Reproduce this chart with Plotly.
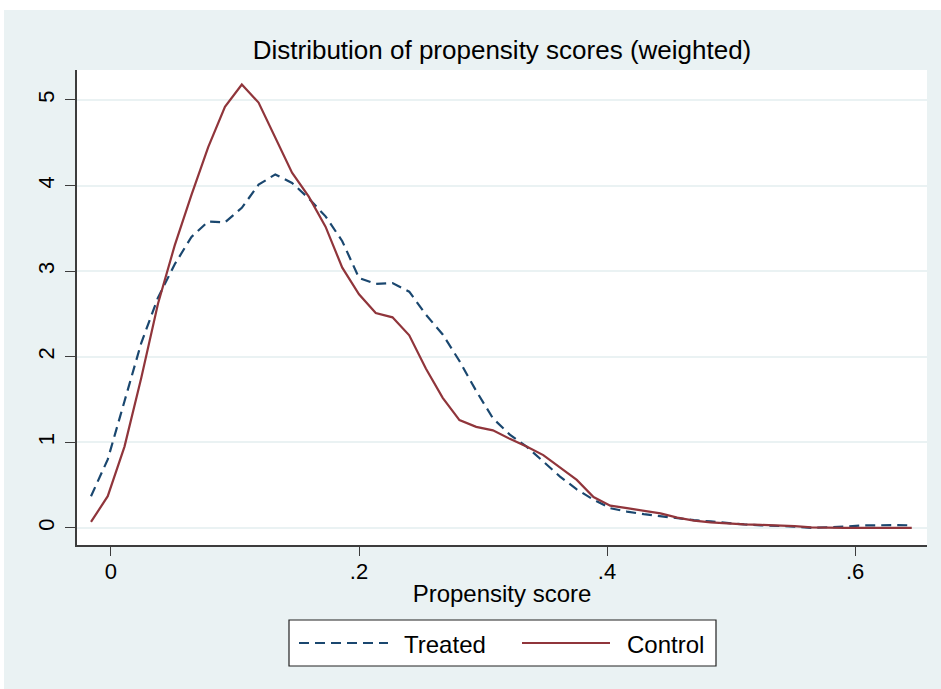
import plotly.graph_objects as go

# Propensity score grid (x) and weighted kernel density estimates
pscore = [-0.0161, -0.0026, 0.0109, 0.0244, 0.0379, 0.0514, 0.0649, 0.0784, 0.0919, 0.1055,
          0.1190, 0.1325, 0.1460, 0.1595, 0.1730, 0.1865, 0.2000, 0.2135, 0.2270, 0.2405,
          0.2540, 0.2675, 0.2810, 0.2945, 0.3080, 0.3216, 0.3351, 0.3486, 0.3621, 0.3756,
          0.3891, 0.4026, 0.4161, 0.4296, 0.4431, 0.4566, 0.4701, 0.4836, 0.4971, 0.5106,
          0.5241, 0.5377, 0.5512, 0.5647, 0.5782, 0.5917, 0.6052, 0.6187, 0.6322, 0.6457]

treated = [0.37, 0.80, 1.48, 2.16, 2.69, 3.08, 3.40, 3.58, 3.57, 3.74,
           4.01, 4.13, 4.03, 3.85, 3.64, 3.35, 2.92, 2.85, 2.86, 2.76,
           2.49, 2.26, 1.95, 1.60, 1.28, 1.09, 0.95, 0.78, 0.60, 0.45,
           0.33, 0.23, 0.19, 0.16, 0.135, 0.117, 0.09, 0.075, 0.055, 0.04,
           0.03, 0.025, 0.015, 0.0, 0.005, 0.015, 0.028, 0.033, 0.033, 0.03]

control = [0.07, 0.37, 0.95, 1.75, 2.62, 3.30, 3.89, 4.45, 4.92, 5.18,
           4.97, 4.57, 4.15, 3.87, 3.52, 3.04, 2.73, 2.51, 2.46, 2.25,
           1.86, 1.52, 1.26, 1.18, 1.14, 1.04, 0.95, 0.85, 0.70, 0.56,
           0.36, 0.26, 0.23, 0.20, 0.17, 0.12, 0.085, 0.065, 0.05, 0.04,
           0.035, 0.03, 0.02, 0.005, 0.0, 0.0, 0.0, 0.0, 0.0, 0.0]

x_ticks = [0, 0.2, 0.4, 0.6]
x_tick_labels = ["0", ".2", ".4", ".6"]
y_ticks = [0, 1, 2, 3, 4, 5]
y_tick_labels = ["0", "1", "2", "3", "4", "5"]

series_names = ["Treated", "Control"]
TREATED_COLOR = "#1a476f"
CONTROL_COLOR = "#90353b"
BG = "#eaf2f3"
AXIS = "#3c3c3c"
FONT = "Liberation Sans, Arial, sans-serif"

W, H = 941, 689
L, R, T, B = 77, 14, 70, 144
PW, PH = W - L - R, H - T - B

def px_x(p):
    return (p - L) / PW

def px_y(p):
    return (H - B - p) / PH

fig = go.Figure()
fig.add_trace(go.Scatter(x=pscore, y=treated, mode="lines", name=series_names[0],
                         line=dict(color=TREATED_COLOR, width=2.2, dash="10px,6px")))
fig.add_trace(go.Scatter(x=pscore, y=control, mode="lines", name=series_names[1],
                         line=dict(color=CONTROL_COLOR, width=2.2)))

shapes = [
    # outer graph region background
    dict(type="rect", xref="paper", yref="paper", layer="below",
         x0=px_x(4), x1=px_x(W + 2), y0=px_y(H + 2), y1=px_y(10),
         fillcolor=BG, line=dict(width=0)),
    # plot region
    dict(type="rect", xref="paper", yref="paper", layer="below",
         x0=0, x1=1, y0=0, y1=1, fillcolor="white", line=dict(width=0)),
    # legend box
    dict(type="rect", xref="paper", yref="paper", layer="above",
         x0=px_x(289), x1=px_x(716), y0=px_y(666), y1=px_y(620),
         fillcolor="white", line=dict(color="#222222", width=1.2)),
    dict(type="line", xref="paper", yref="paper",
         x0=px_x(299), x1=px_x(388), y0=px_y(643), y1=px_y(643),
         line=dict(color=TREATED_COLOR, width=2.2, dash="10px,6px")),
    dict(type="line", xref="paper", yref="paper",
         x0=px_x(522), x1=px_x(610), y0=px_y(643), y1=px_y(643),
         line=dict(color=CONTROL_COLOR, width=2.2)),
]

annotations = [
    dict(text=series_names[0], xref="paper", yref="paper", x=px_x(402), y=px_y(644),
         xanchor="left", yanchor="middle", showarrow=False,
         font=dict(family=FONT, size=24, color="black")),
    dict(text=series_names[1], xref="paper", yref="paper", x=px_x(625), y=px_y(644),
         xanchor="left", yanchor="middle", showarrow=False,
         font=dict(family=FONT, size=24, color="black")),
]

fig.update_layout(
    width=W, height=H,
    margin=dict(l=L, r=R, t=T, b=B, pad=0),
    paper_bgcolor="white",
    plot_bgcolor="rgba(0,0,0,0)",
    showlegend=False,
    font=dict(family=FONT, color="black"),
    title=dict(text="Distribution of propensity scores (weighted)",
               x=(L + PW / 2) / W, xanchor="center",
               y=1 - 50 / H, yanchor="middle",
               font=dict(family=FONT, size=26, color="black")),
    shapes=shapes,
    annotations=annotations,
)

fig.update_xaxes(
    range=[-0.0274, 0.658],
    tickmode="array", tickvals=x_ticks, ticktext=x_tick_labels,
    ticks="outside", ticklen=9, tickwidth=1.3, tickcolor=AXIS,
    showline=True, linecolor=AXIS, linewidth=1.8,
    showgrid=False, zeroline=False,
    tickfont=dict(family=FONT, size=22, color="black"),
    ticklabelstandoff=-3,
    title=dict(text="Propensity score", standoff=2,
               font=dict(family=FONT, size=24, color="black")),
)
fig.update_yaxes(
    range=[-0.2, 5.35],
    tickmode="array", tickvals=y_ticks, ticktext=y_tick_labels,
    ticks="outside", ticklen=10, tickwidth=1.3, tickcolor=AXIS,
    showline=True, linecolor=AXIS, linewidth=1.5,
    showgrid=True, gridcolor=BG, gridwidth=2,
    zeroline=False, tickangle=-90,
    tickfont=dict(family=FONT, size=22, color="black"),
    ticklabelstandoff=2,
)

fig.write_html("out.html", config={"displayModeBar": False},
               post_script="document.body.style.margin='0';")
